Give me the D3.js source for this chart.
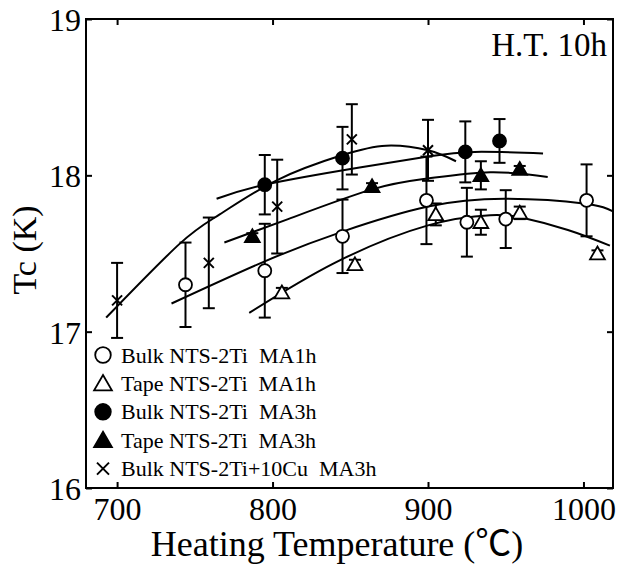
<!DOCTYPE html>
<html>
<head>
<meta charset="utf-8">
<script src="https://cdn.jsdelivr.net/npm/d3@7"></script>
<style>
  body { margin: 0; background: #fff; }
  svg { display: block; }
  text { font-family: "Liberation Serif", "Times New Roman", "Noto Sans CJK JP", serif; fill: #000; }
</style>
</head>
<body>
<svg id="chart" width="618" height="564"></svg>
<script>
// Measured points: [heating temperature (°C), Tc (K), half error bar (K)]
const bulkMA1h = [[744, 17.30, 0.27], [795, 17.39, 0.30], [845, 17.61, 0.235], [899, 17.84, 0.28],
                  [925, 17.70, 0.22], [950, 17.72, 0.185], [1002, 17.84, 0.23]];
const tapeMA1h = [[806, 17.25, 0.03], [853, 17.43, 0.03], [905, 17.75, 0.07], [934, 17.70, 0.08],
                  [959, 17.76, 0.04], [1009, 17.50, 0.02]];
const bulkMA3h = [[795, 17.94, 0.19], [845, 18.11, 0.20], [924, 18.15, 0.195], [946, 18.22, 0.14]];
const tapeMA3h = [[787, 17.61, 0.02], [864, 17.93, 0.02], [934, 18.00, 0.09], [959, 18.04, 0.02]];
const bulkCuMA3h = [[700, 17.20, 0.24], [759, 17.44, 0.29], [803, 17.80, 0.30], [851, 18.23, 0.225],
                    [900, 18.16, 0.195]];

// Fitted trend curves: [temperature (°C), Tc (K)]
const fitBulkMA1h = [[735, 17.18], [795, 17.45], [845, 17.64], [900, 17.80], [950, 17.85], [1000, 17.82], [1019, 17.77]];
const fitTapeMA1h = [[785, 17.12], [840, 17.44], [900, 17.68], [940, 17.745], [960, 17.73], [990, 17.65], [1017, 17.55]];
const fitBulkMA3h = [[764, 17.85], [795, 17.94], [856, 18.05], [900, 18.12], [930, 18.15], [974, 18.14]];
const fitTapeMA3h = [[769, 17.57], [810, 17.72], [864, 17.91], [900, 17.98], [940, 18.02], [977, 17.99]];
const fitBulkCuMA3h = [[693, 17.09], [740, 17.56], [766, 17.75], [803, 17.97], [845, 18.13], [873, 18.19], [900, 18.16], [918, 18.09]];

const xTicks = [700, 800, 900, 1000];
const yTicks = [16, 17, 18, 19];
const legendLabels = ["Bulk NTS-2Ti  MA1h", "Tape NTS-2Ti  MA1h", "Bulk NTS-2Ti  MA3h",
                      "Tape NTS-2Ti  MA3h", "Bulk NTS-2Ti+10Cu  MA3h"];
const markerKinds = ["openCircle", "openTriangle", "filledCircle", "filledTriangle", "cross"];

const svg = d3.select("#chart");
const plotLeft = 86, plotRight = 613, plotTop = 19, plotBottom = 488;
const x = d3.scaleLinear().domain([680, 1019]).range([plotLeft, plotRight]);
const y = d3.scaleLinear().domain([16, 19]).range([plotBottom, plotTop]);

// Axes with inward ticks on all four sides
const gx = svg.append("g").attr("transform", `translate(0,${plotBottom})`)
  .call(d3.axisBottom(x).tickValues(xTicks).tickSize(-6).tickPadding(9).tickFormat(d3.format("d")));
const gy = svg.append("g").attr("transform", `translate(${plotLeft},0)`)
  .call(d3.axisLeft(y).tickValues(yTicks).tickSize(-6).tickPadding(5).tickFormat(d3.format("d")));
const gt = svg.append("g").attr("transform", `translate(0,${plotTop})`)
  .call(d3.axisTop(x).tickValues(xTicks).tickSize(-6).tickFormat(""));
const gr = svg.append("g").attr("transform", `translate(${plotRight},0)`)
  .call(d3.axisRight(y).tickValues(yTicks).tickSize(-6).tickFormat(""));
[gx, gy, gt, gr].forEach(g => {
  g.select(".domain").remove();
  g.selectAll(".tick line").attr("stroke", "#000").attr("stroke-width", 2);
  g.selectAll(".tick text").style("font-size", "32px").attr("fill", "#000");
});
gy.selectAll(".tick text").attr("dy", "0.36em");

svg.append("rect").attr("x", plotLeft).attr("y", plotTop)
  .attr("width", plotRight - plotLeft).attr("height", plotBottom - plotTop)
  .attr("fill", "none").attr("stroke", "#000").attr("stroke-width", 2);

// Trend curves
const line = d3.line().x(d => x(d[0])).y(d => y(d[1])).curve(d3.curveNatural);
[fitBulkMA1h, fitTapeMA1h, fitBulkMA3h, fitTapeMA3h, fitBulkCuMA3h].forEach(f => {
  svg.append("path").attr("d", line(f)).attr("fill", "none")
    .attr("stroke", "#000").attr("stroke-width", 2);
});

// Marker drawing
function drawMarker(g, kind, cx, cy, scale) {
  const s = scale || 1;
  if (kind === "openCircle" || kind === "filledCircle") {
    g.append("circle").attr("cx", cx).attr("cy", cy).attr("r", 6.5 * s)
      .attr("fill", kind === "openCircle" ? "#fff" : "#000")
      .attr("stroke", "#000").attr("stroke-width", 1.8);
  } else if (kind === "openTriangle" || kind === "filledTriangle") {
    g.append("path")
      .attr("d", d3.symbol(d3.symbolTriangle, 95 * s * s)())
      .attr("transform", `translate(${cx},${cy + 1.5 * s})`)
      .attr("fill", kind === "openTriangle" ? "#fff" : "#000")
      .attr("stroke", "#000").attr("stroke-width", 1.8);
  } else {
    const h = 5 * s;
    g.append("path")
      .attr("d", `M${cx - h},${cy - h}L${cx + h},${cy + h}M${cx - h},${cy + h}L${cx + h},${cy - h}`)
      .attr("stroke", "#000").attr("stroke-width", 2).attr("fill", "none");
  }
}

// Error bars then markers
const allSeries = [bulkMA1h, tapeMA1h, bulkMA3h, tapeMA3h, bulkCuMA3h];
const bars = svg.append("g").attr("stroke", "#000").attr("stroke-width", 2);
allSeries.forEach(series => {
  series.forEach(([t, tc, e]) => {
    const px = x(t), y0 = y(tc - e), y1 = y(tc + e);
    bars.append("line").attr("x1", px).attr("x2", px).attr("y1", y0).attr("y2", y1);
    bars.append("line").attr("x1", px - 6).attr("x2", px + 6).attr("y1", y0).attr("y2", y0);
    bars.append("line").attr("x1", px - 6).attr("x2", px + 6).attr("y1", y1).attr("y2", y1);
  });
});
const marks = svg.append("g");
allSeries.forEach((series, i) => {
  series.forEach(([t, tc]) => drawMarker(marks, markerKinds[i], x(t), y(tc)));
});

// Legend
const legend = svg.append("g");
legendLabels.forEach((label, i) => {
  const cy = 355 + i * 28.4;
  drawMarker(legend, markerKinds[i], 103, cy, 1.2);
  legend.append("text").attr("x", 121).attr("y", cy + 7.5)
    .style("font-size", "22px").style("white-space", "pre").text(label);
});

// Annotation and axis titles
svg.append("text").attr("x", 607).attr("y", 56).attr("text-anchor", "end")
  .style("font-size", "33px").text("H.T. 10h");
svg.append("text").attr("x", 337).attr("y", 556).attr("text-anchor", "middle")
  .style("font-size", "36px").text("Heating Temperature (\u2103)");
svg.append("text").attr("transform", "translate(36,250) rotate(-90)").attr("text-anchor", "middle")
  .style("font-size", "34px").text("Tc (K)");
</script>
</body>
</html>
